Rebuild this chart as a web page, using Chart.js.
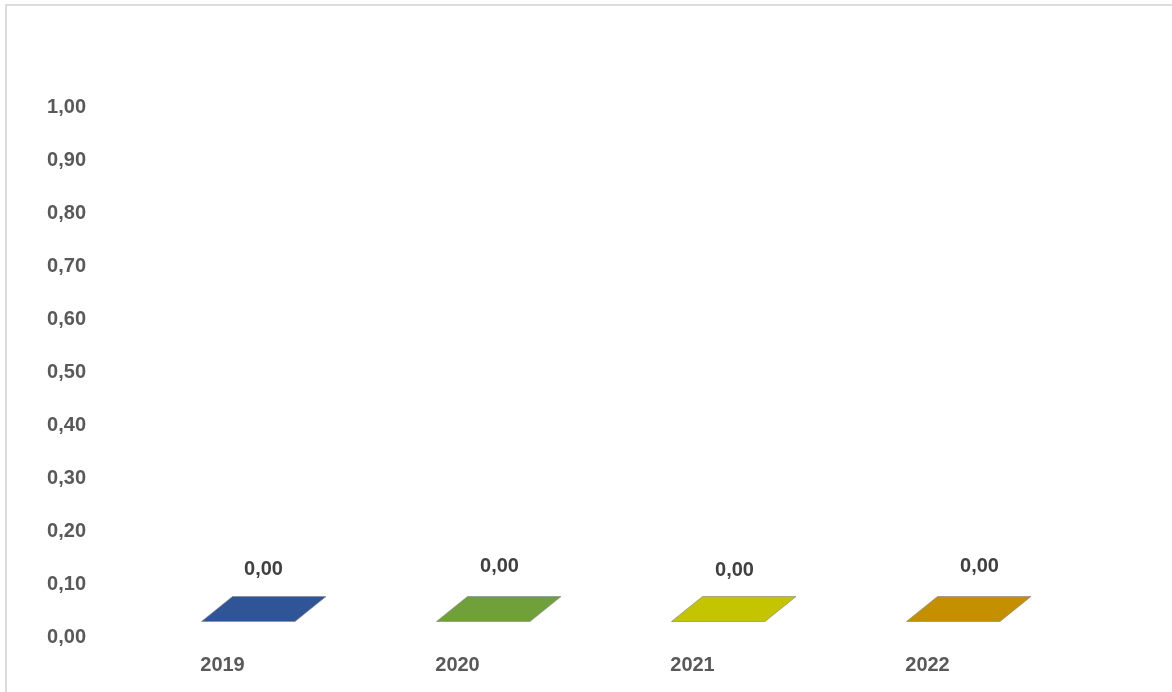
<!DOCTYPE html>
<html>
<head>
<meta charset="utf-8">
<script src="https://cdn.jsdelivr.net/npm/chart.js@4/dist/chart.umd.min.js"></script>
<style>
  html, body { margin: 0; padding: 0; background: #fff; overflow: hidden; }
  #wrap { position: relative; width: 1172px; height: 692px; }
  #frame { position: absolute; left: 5px; top: 4px; width: 1300px; height: 900px; border: 2px solid #dcdcdc; box-sizing: border-box; pointer-events: none; }
  canvas { position: absolute; left: 0; top: 0; }
</style>
</head>
<body>
<div id="wrap">
  <canvas id="c" width="1172" height="692"></canvas>
  <div id="frame"></div>
</div>
<script>
const categories = ['2019', '2020', '2021', '2022'];
const values = [0, 0, 0, 0];
const barColors = ['#2F5597', '#70A03A', '#C4C400', '#C49000'];
const yTicks = [0, 0.1, 0.2, 0.3, 0.4, 0.5, 0.6, 0.7, 0.8, 0.9, 1.0];

const fmt = v => v.toFixed(2).replace('.', ',');
const FONT = '"Liberation Sans", Arial, sans-serif';

const bars3d = {
  id: 'bars3d',
  afterDatasetsDraw(chart, args, opts) {
    const ctx = chart.ctx;
    const xs = chart.scales.x, ys = chart.scales.y;
    const ds = chart.data.datasets[0];
    const base = ys.getPixelForValue(0);
    const nudge = opts.labelNudge || [];
    ds.data.forEach((v, i) => {
      const xc = xs.getPixelForValue(i);
      const top = ys.getPixelForValue(v);
      const h = base - top;
      const fl = xc - 21, fr = xc + 72.5;  // front face
      const dx = 31, dy = 25;             // depth
      const fy0 = base - 16;              // front bottom
      const fy1 = fy0 - h;                // front top
      const col = ds.backgroundColor[i];
      ctx.save();
      ctx.lineWidth = 1;
      ctx.strokeStyle = 'rgba(140,140,140,0.7)';
      if (h > 0.5) {
        ctx.fillStyle = col;
        ctx.fillRect(fl, fy1, fr - fl, h);
        ctx.beginPath();
        ctx.moveTo(fr, fy0); ctx.lineTo(fr + dx, fy0 - dy);
        ctx.lineTo(fr + dx, fy1 - dy); ctx.lineTo(fr, fy1); ctx.closePath();
        ctx.fillStyle = col; ctx.fill();
        ctx.fillStyle = 'rgba(0,0,0,0.2)'; ctx.fill();
      }
      ctx.beginPath();
      ctx.moveTo(fl, fy1); ctx.lineTo(fr, fy1);
      ctx.lineTo(fr + dx, fy1 - dy); ctx.lineTo(fl + dx, fy1 - dy); ctx.closePath();
      ctx.fillStyle = col; ctx.fill();
      ctx.stroke();
      const n = nudge[i] || [0, 0];
      ctx.fillStyle = '#404040';
      ctx.font = 'bold 20px ' + FONT;
      ctx.textAlign = 'center';
      ctx.textBaseline = 'middle';
      ctx.fillText(fmt(v), xc + 41 + n[0], fy1 - 53 + n[1]);
      ctx.restore();
    });
  }
};

new Chart(document.getElementById('c'), {
  type: 'bar',
  data: {
    labels: categories,
    datasets: [{ data: values, backgroundColor: barColors, borderWidth: 0 }]
  },
  options: {
    responsive: false,
    animation: false,
    layout: { padding: { left: 0, right: 127, top: 107.5, bottom: 0 } },
    plugins: {
      legend: { display: false },
      tooltip: { enabled: false },
      bars3d: { labelNudge: [[0, 1], [1, -2], [1, 2], [11, -2]] }
    },
    scales: {
      x: {
        grid: { display: false, drawTicks: false },
        border: { display: false },
        ticks: { color: '#595959', font: { family: FONT, size: 20, weight: 'bold' }, padding: 16, maxRotation: 0 },
        afterFit(s) { s.height = 54.5; }
      },
      y: {
        min: 0, max: 1,
        afterBuildTicks(s) { s.ticks = yTicks.map(v => ({ value: v })); },
        grid: { display: false, drawTicks: false },
        border: { display: false },
        ticks: { color: '#595959', font: { family: FONT, size: 20, weight: 'bold' }, padding: 19, callback: v => fmt(v) },
        afterFit(s) { s.width = 105; }
      }
    }
  },
  plugins: [bars3d]
});
</script>
</body>
</html>
